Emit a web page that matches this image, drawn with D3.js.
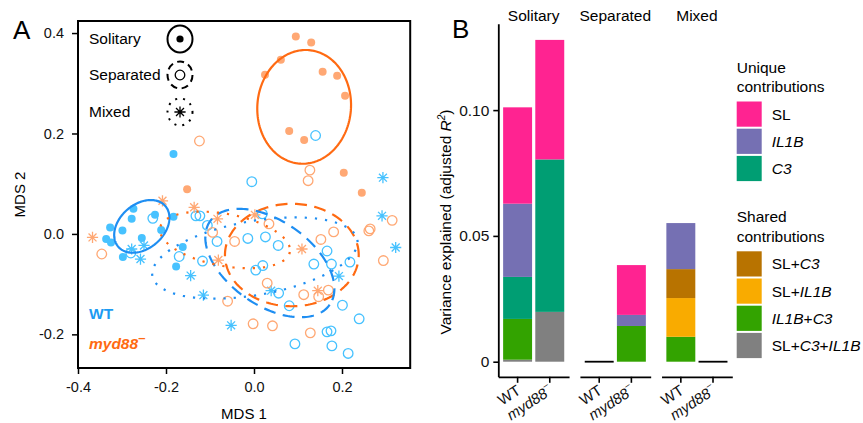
<!DOCTYPE html>
<html>
<head>
<meta charset="utf-8">
<script src="https://cdn.jsdelivr.net/npm/d3@7"></script>
<style>
  body { margin: 0; background: #fff; }
  svg { display: block; font-family: "Liberation Sans", Arial, Helvetica, sans-serif; }
</style>
</head>
<body>
<svg id="chart" width="863" height="423"></svg>
<script>
// ---- Panel A data: MDS coordinates [MDS 1, MDS 2] ----
const wtSolitary = [[-0.183, 0.159], [-0.274, 0.050], [-0.278, 0.030], [-0.225, 0.038], [-0.327, 0.013],
  [-0.299, 0.007], [-0.211, 0.008], [-0.183, 0.034], [-0.336, -0.010], [-0.325, -0.017],
  [-0.255, -0.008], [-0.298, -0.046], [-0.162, -0.026], [-0.177, -0.065]];
const wtSeparated = [[0.140, 0.196], [-0.005, 0.104], [-0.280, -0.038], [-0.230, 0.031], [-0.132, 0.036],
  [-0.123, 0.036], [-0.106, 0.017], [-0.084, -0.015], [-0.170, -0.045], [-0.117, -0.054],
  [-0.014, -0.009], [0.019, 0.040], [0.026, -0.006], [0.055, -0.023], [0.004, -0.072],
  [0.020, -0.063], [0.056, -0.118], [0.080, -0.143], [0.136, -0.060], [0.166, -0.034],
  [0.176, -0.060], [0.218, -0.056], [0.201, -0.142], [0.239, -0.169], [0.166, -0.195],
  [0.175, -0.193], [0.177, -0.223], [0.214, -0.238], [0.093, -0.219]];
const wtMixed = [[0.293, 0.112], [0.291, 0.036], [0.322, -0.027], [-0.278, -0.030], [-0.250, -0.023],
  [-0.258, -0.050], [-0.144, -0.083], [-0.115, -0.122], [0.039, -0.113], [0.193, -0.084], [-0.052, -0.182]];
const mydSolitary = [[0.095, 0.393], [0.130, 0.381], [0.061, 0.347], [0.025, 0.317], [0.156, 0.323],
  [0.189, 0.315], [0.207, 0.275], [0.080, 0.205], [0.114, 0.187], [-0.152, 0.089], [0.204, 0.122], [0.245, 0.082]];
const mydSeparated = [[-0.124, 0.185], [0.127, 0.127], [0.123, 0.106], [-0.346, -0.040], [-0.094, 0.003],
  [-0.044, -0.015], [0.034, 0.020], [0.181, 0.004], [0.152, -0.011], [0.261, 0.006], [0.264, 0.010],
  [0.314, 0.027], [0.294, -0.053], [0.030, -0.098], [-0.060, -0.134], [0.113, -0.121],
  [0.147, -0.125], [0.169, -0.112], [-0.002, -0.179], [0.042, -0.183], [0.128, -0.197]];
const mydMixed = [[-0.367, -0.007], [-0.208, 0.066], [-0.136, 0.053], [-0.083, 0.030], [-0.081, -0.052],
  [0.002, 0.038], [0.109, -0.030], [0.145, -0.113]];

// ellipses: centre and two conjugate semi-axis vectors, in MDS units
const ellipseGeno = ["myd88", "WT", "myd88", "WT", "myd88", "WT"];
const ellipseSetting = ["Solitary", "Solitary", "Separated", "Separated", "Mixed", "Mixed"];
const ellipseParams = [
  [0.114, 0.253, 0.011, 0.113, 0.106, -0.008],
  [-0.255, 0.015, 0.054, 0.040, 0.032, -0.034],
  [0.086, -0.042, 0.152, 0, 0, 0.102],
  [0.036, -0.058, 0.136, -0.083, -0.055, -0.069],
  [-0.066, -0.012, 0.1475, -0.024, -0.0107, -0.051],
  [0.002, -0.048, 0.233, 0.036, 0.0146, -0.0725]
];
const mdsTicks = [-0.4, -0.2, 0.0, 0.2, 0.4];
const settings = ["Solitary", "Separated", "Mixed"];

// ---- Panel B data: variance explained (adjusted R2), stacked bottom -> top ----
const facets = ["Solitary", "Separated", "Mixed"];
const genotypes = ["WT", "myd88"];
const components = ["SL+C3+IL1B", "IL1B+C3", "SL+IL1B", "SL+C3", "C3", "IL1B", "SL"];
const varSolitaryWT = [0.0008, 0.0162, 0, 0, 0.0167, 0.0291, 0.0383];
const varSolitaryMyd = [0.0198, 0, 0, 0, 0.0606, 0, 0.0475];
const varSeparatedWT = [0, 0, 0, 0, 0, 0, 0];
const varSeparatedMyd = [0, 0.0142, 0, 0, 0, 0.0044, 0.0198];
const varMixedWT = [0, 0.0099, 0.0154, 0.0115, 0, 0.0183, 0];
const varMixedMyd = [0, 0, 0, 0, 0, 0, 0];
const varTicks = [0, 0.05, 0.10];
const uniqueKeys = ["SL", "IL1B", "C3"];
const sharedKeys = ["SL+C3", "SL+IL1B", "IL1B+C3", "SL+C3+IL1B"];

const FONT = '"Liberation Sans", Arial, Helvetica, sans-serif';
const svg = d3.select("#chart");

// ================= Panel A =================
const blueLine = "#1E8EF2", orangeLine = "#FF6A12";
const genoColor = { WT: "#47C2FF", myd88: "#FFA874" };
const ellColor = { WT: blueLine, myd88: orangeLine };
const ellDash = { Solitary: null, Separated: "12,7.5", Mixed: "2.2,8" };

const x = d3.scaleLinear().domain([-0.4, 0.355]).range([78, 410.2]);
const y = d3.scaleLinear().domain([-0.267, 0.424]).range([368, 21]);

const star = r => {
  const q = r * 0.71;
  return `M${-r},0H${r}M0,${-r}V${r}M${-q},${-q}L${q},${q}M${-q},${q}L${q},${-q}`;
};

function marker(g, setting, color) {
  if (setting === "Solitary") {
    g.append("circle").attr("r", 4).attr("fill", color);
  } else if (setting === "Separated") {
    g.append("circle").attr("r", 4.8).attr("fill", "none").attr("stroke", color).attr("stroke-width", 1.3);
  } else {
    g.append("path").attr("d", star(5.6)).attr("stroke", color).attr("stroke-width", 1.3);
  }
}

const pointSets = [
  { geno: "WT", setting: "Solitary", pts: wtSolitary },
  { geno: "WT", setting: "Separated", pts: wtSeparated },
  { geno: "WT", setting: "Mixed", pts: wtMixed },
  { geno: "myd88", setting: "Solitary", pts: mydSolitary },
  { geno: "myd88", setting: "Separated", pts: mydSeparated },
  { geno: "myd88", setting: "Mixed", pts: mydMixed }
];

const gA = svg.append("g");
pointSets.forEach(function (s) {
  gA.append("g").selectAll("g")
    .data(s.pts)
    .join("g")
    .attr("transform", d => `translate(${x(d[0])},${y(d[1])})`)
    .each(function () { marker(d3.select(this), s.setting, genoColor[s.geno]); });
});

// confidence ellipses
const ellLine = d3.line().x(d => x(d[0])).y(d => y(d[1])).curve(d3.curveLinearClosed);
ellipseParams.forEach(function (p, i) {
  const pts = d3.range(0, 360, 2).map(function (deg) {
    const t = deg * Math.PI / 180;
    return [p[0] + p[2] * Math.cos(t) + p[4] * Math.sin(t), p[1] + p[3] * Math.cos(t) + p[5] * Math.sin(t)];
  });
  gA.append("path")
    .attr("d", ellLine(pts))
    .attr("fill", "none")
    .attr("stroke", ellColor[ellipseGeno[i]])
    .attr("stroke-width", 2.2)
    .attr("stroke-dasharray", ellDash[ellipseSetting[i]]);
});

// frame
gA.append("rect").attr("x", 78).attr("y", 21).attr("width", 332.2).attr("height", 347)
  .attr("fill", "none").attr("stroke", "#000").attr("stroke-width", 2);

// axes
const axA = svg.append("g").attr("transform", "translate(78,0)")
  .call(d3.axisLeft(y).tickValues(mdsTicks.filter(v => v > -0.25)).tickSize(6).tickPadding(8)
    .tickFormat(d => d.toFixed(1)));
const axB = svg.append("g").attr("transform", "translate(0,368)")
  .call(d3.axisBottom(x).tickValues(mdsTicks.filter(v => v < 0.3)).tickSize(6).tickPadding(8)
    .tickFormat(d => d.toFixed(1)));
[axA, axB].forEach(function (a) {
  a.attr("font-family", FONT).attr("font-size", 14.5);
  a.select(".domain").remove();
  a.selectAll(".tick line").attr("stroke-width", 1.5);
  a.selectAll(".tick text").attr("fill", "#111");
});

svg.append("text").attr("x", 244).attr("y", 419).attr("text-anchor", "middle")
  .attr("font-size", 15).text("MDS 1");
svg.append("text").attr("transform", "translate(25,194.5) rotate(-90)").attr("text-anchor", "middle")
  .attr("font-size", 15).text("MDS 2");
svg.append("text").attr("x", 13).attr("y", 39).attr("font-size", 26).text("A");

// legend for settings
const legA = svg.append("g");
settings.forEach(function (s, i) {
  const cy = [39, 75, 112][i];
  legA.append("text").attr("x", 89).attr("y", cy + 5).attr("font-size", 15.5).text(s);
  legA.append("ellipse").attr("cx", 180).attr("cy", cy).attr("rx", 12.5).attr("ry", 13.5)
    .attr("fill", "none").attr("stroke", "#000").attr("stroke-width", 2)
    .attr("stroke-dasharray", [null, "7,4.6", "2,6"][i]);
  marker(legA.append("g").attr("transform", `translate(180,${cy})`), s, "#000");
});
legA.selectAll("circle").filter(function () { return this.getAttribute("fill") === "#000"; }).attr("r", 3.6);

svg.append("text").attr("x", 89).attr("y", 318.5).attr("font-size", 15.5).attr("font-weight", "bold")
  .attr("fill", "#1C9BF2").text("WT");
const mydLab = svg.append("text").attr("x", 89).attr("y", 349).attr("font-size", 15.5)
  .attr("font-weight", "bold").attr("font-style", "italic").attr("fill", "#FF6A12");
mydLab.append("tspan").text("myd88");
mydLab.append("tspan").attr("dy", -7).attr("font-size", 13).attr("font-style", "normal").text("\u2013");

// ================= Panel B =================
const compColor = {
  "SL": "#FF2391", "IL1B": "#7570B3", "C3": "#009E73",
  "SL+C3": "#B87300", "SL+IL1B": "#F9AB00", "IL1B+C3": "#33A300", "SL+C3+IL1B": "#808080"
};
// label pieces: [text, italic]
const compLabel = {
  "SL": [["SL", 0]], "IL1B": [["IL1B", 1]], "C3": [["C3", 1]],
  "SL+C3": [["SL+", 0], ["C3", 1]], "SL+IL1B": [["SL+", 0], ["IL1B", 1]],
  "IL1B+C3": [["IL1B", 1], ["+", 0], ["C3", 1]],
  "SL+C3+IL1B": [["SL+", 0], ["C3", 1], ["+", 0], ["IL1B", 1]]
};

const barInput = [
  ["Solitary", "WT", varSolitaryWT], ["Solitary", "myd88", varSolitaryMyd],
  ["Separated", "WT", varSeparatedWT], ["Separated", "myd88", varSeparatedMyd],
  ["Mixed", "WT", varMixedWT], ["Mixed", "myd88", varMixedMyd]
];
const rows = barInput.map(function (r) {
  const o = { facet: r[0], geno: r[1] };
  components.forEach((c, i) => { o[c] = r[2][i]; });
  return o;
});
const series = d3.stack().keys(components)(rows);

const fx = d3.scaleBand().domain(facets).range([498.3, 732.3]).paddingInner(0.133);
const gx = d3.scaleBand().domain(genotypes).range([0, fx.bandwidth()]).paddingInner(0.1).paddingOuter(0.15);
const yB = d3.scaleLinear().domain([-0.006, 0.1343]).range([376.8, 23.8]);

const gB = svg.append("g");
gB.selectAll("g.series")
  .data(series)
  .join("g")
  .attr("class", "series")
  .attr("fill", d => compColor[d.key])
  .selectAll("rect")
  .data(d => d.filter(v => v[1] - v[0] > 0))
  .join("rect")
  .attr("x", d => fx(d.data.facet) + gx(d.data.geno))
  .attr("width", gx.bandwidth())
  .attr("y", d => yB(d[1]))
  .attr("height", d => yB(d[0]) - yB(d[1]));

// empty bars shown as a line at zero
gB.selectAll("line.zero")
  .data(rows.filter(r => d3.sum(components, c => r[c]) === 0))
  .join("line")
  .attr("x1", d => fx(d.facet) + gx(d.geno))
  .attr("x2", d => fx(d.facet) + gx(d.geno) + gx.bandwidth())
  .attr("y1", yB(0)).attr("y2", yB(0))
  .attr("stroke", "#000").attr("stroke-width", 1.8);

// y axis
const ayB = svg.append("g").attr("transform", "translate(498.3,0)")
  .call(d3.axisLeft(yB).tickValues(varTicks).tickSize(5).tickPadding(4).tickSizeOuter(0)
    .tickFormat(d => d === 0 ? "0" : d.toFixed(2)));
ayB.attr("font-family", FONT).attr("font-size", 15.5);
ayB.select(".domain").attr("stroke-width", 1.8);
ayB.selectAll(".tick line").attr("stroke-width", 1.6);
ayB.selectAll(".tick text").attr("fill", "#111");

// x axes per facet
facets.forEach(function (f) {
  const ax = svg.append("g").attr("transform", `translate(${fx(f)},376.8)`)
    .call(d3.axisBottom(gx).tickSize(6).tickSizeOuter(0).tickFormat(""));
  ax.select(".domain").attr("stroke-width", 1.8);
  ax.selectAll(".tick line").attr("stroke-width", 1.6);
  genotypes.forEach(function (g) {
    const t = svg.append("text")
      .attr("transform", `translate(${fx(f) + gx(g) + gx.bandwidth() / 2 + 4},393) rotate(-33)`)
      .attr("text-anchor", "end").attr("font-size", 15).attr("fill", "#111");
    if (g === "WT") {
      t.text("WT");
    } else {
      t.append("tspan").attr("font-style", "italic").text("myd88");
      t.append("tspan").attr("dy", -7).attr("font-size", 10).text("\u2212");
    }
  });
  svg.append("text").attr("x", fx(f) + fx.bandwidth() / 2).attr("y", 21).attr("text-anchor", "middle")
    .attr("font-size", 15.5).text(f);
});

const yt = svg.append("text").attr("transform", "translate(451,222) rotate(-90)")
  .attr("text-anchor", "middle").attr("font-size", 15.5);
yt.append("tspan").text("Variance explained (adjusted ");
yt.append("tspan").attr("font-style", "italic").text("R");
yt.append("tspan").attr("font-style", "italic").attr("font-size", 10).attr("dy", -6).text("2");
yt.append("tspan").attr("dy", 6).text(")");

svg.append("text").attr("x", 452).attr("y", 38).attr("font-size", 26).text("B");

// legends
function legendBlock(title, keys, top) {
  const g = svg.append("g");
  title.forEach((t, i) => g.append("text").attr("x", 736.7).attr("y", top + i * 19.5).attr("font-size", 15.5).text(t));
  keys.forEach(function (k, i) {
    const ky = top + 29 + i * 27.2;
    g.append("rect").attr("x", 736.7).attr("y", ky).attr("width", 25).attr("height", 25.2)
      .attr("fill", compColor[k]);
    const t = g.append("text").attr("x", 771.7).attr("y", ky + 18).attr("font-size", 15.5);
    compLabel[k].forEach(p => t.append("tspan").attr("font-style", p[1] ? "italic" : "normal").text(p[0]));
  });
}
legendBlock(["Unique", "contributions"], uniqueKeys, 72.5);
legendBlock(["Shared", "contributions"], sharedKeys, 222.3);
</script>
</body>
</html>
